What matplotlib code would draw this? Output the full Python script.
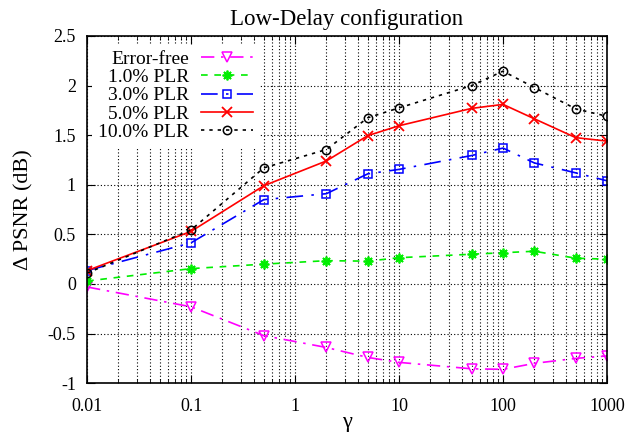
import numpy as np
import matplotlib
matplotlib.use("Agg")
import matplotlib.pyplot as plt
from matplotlib.ticker import FixedLocator, FixedFormatter, LogLocator, NullFormatter

plt.rcParams['font.family'] = ['Liberation Serif', 'DejaVu Serif']
plt.rcParams['axes.unicode_minus'] = False

gamma = [0.01, 0.1, 0.5, 2, 5, 10, 50, 100, 200, 500, 1000]
error_free = [-0.03, -0.23, -0.52, -0.64, -0.74, -0.79, -0.855, -0.86, -0.80, -0.75, -0.725]
plr_1 = [0.03, 0.155, 0.20, 0.235, 0.23, 0.265, 0.30, 0.315, 0.33, 0.26, 0.25]
plr_3 = [0.135, 0.415, 0.85, 0.91, 1.11, 1.155, 1.295, 1.37, 1.22, 1.12, 1.04]
plr_5 = [0.135, 0.53, 0.99, 1.24, 1.495, 1.595, 1.77, 1.81, 1.665, 1.475, 1.44]
plr_10 = [0.11, 0.545, 1.17, 1.355, 1.675, 1.775, 2.0, 2.145, 1.98, 1.765, 1.69]

fig = plt.figure(figsize=(6.31, 4.33), dpi=100)
ax = fig.add_axes([0.138, 0.115, 0.824, 0.802])

lw = 1.2
ax.plot(gamma, error_free, color='#ff00ff', lw=lw, dashes=(8, 4, 1.5, 4),
        marker='v', ms=7, mfc='none', mec='#ff00ff', mew=1.1, label='Error-free')
ax.plot(gamma, plr_1, color='#00ee00', lw=lw, dashes=(4, 4),
        marker=(8, 2, 0), ms=7, mec='#00ee00', mew=1.3, label='1.0% PLR')
ax.plot(gamma, plr_3, color='#0000ff', lw=lw, dashes=(10, 5, 1.5, 5),
        marker='s', ms=6, mfc='none', mec='#0000ff', mew=1.1, label='3.0% PLR')
ax.plot(gamma, plr_5, color='#ff0000', lw=lw, ls='-',
        marker='x', ms=7, mec='#ff0000', mew=1.3, label='5.0% PLR')
ax.plot(gamma, plr_10, color='black', lw=lw, dashes=(2, 3),
        marker='o', ms=6, mfc='none', mec='black', mew=1.1, label='10.0% PLR')

ax.set_xscale('log')
ax.set_xlim(0.01, 1000)
ax.set_ylim(-1, 2.5)

xt = [0.01, 0.1, 1, 10, 100, 1000]
ax.xaxis.set_major_locator(FixedLocator(xt))
ax.xaxis.set_major_formatter(FixedFormatter(['0.01', '0.1', '1', '10', '100', '1000']))
ax.xaxis.set_minor_locator(LogLocator(base=10, subs=np.arange(2, 10)))
ax.xaxis.set_minor_formatter(NullFormatter())
yt = [-1, -0.5, 0, 0.5, 1, 1.5, 2, 2.5]
ax.yaxis.set_major_locator(FixedLocator(yt))
ax.yaxis.set_major_formatter(FixedFormatter(['-1', '-0.5', '0', '0.5', '1', '1.5', '2', '2.5']))

ax.grid(True, which='major', ls=(0, (1, 2)), color='black', lw=0.8)
ax.grid(True, which='minor', axis='x', ls=(0, (1, 2)), color='black', lw=0.8)
ax.tick_params(which='both', direction='in', top=True, right=True, labelsize=13)
ax.tick_params(which='major', length=6)
ax.tick_params(which='minor', length=3)
ax.tick_params(axis='x', pad=11)
ax.tick_params(axis='y', pad=8)
for s in ax.spines.values():
    s.set_linewidth(1.2)

ax.set_title('Low-Delay configuration', fontsize=16.5, pad=8)
ax.set_xlabel('γ', fontsize=16, labelpad=-2)
ax.set_ylabel('Δ PSNR (dB)', fontsize=16, labelpad=10)

leg = ax.legend(loc='upper right', markerfirst=False, fontsize=14,
                handlelength=2.7, handletextpad=0.62, labelspacing=0.03,
                borderpad=0.3, borderaxespad=0.0,
                bbox_to_anchor=(0.331, 0.975),
                frameon=True, fancybox=False, framealpha=1.0,
                facecolor='white', edgecolor='none')

fig.savefig('out.png', dpi=100)
